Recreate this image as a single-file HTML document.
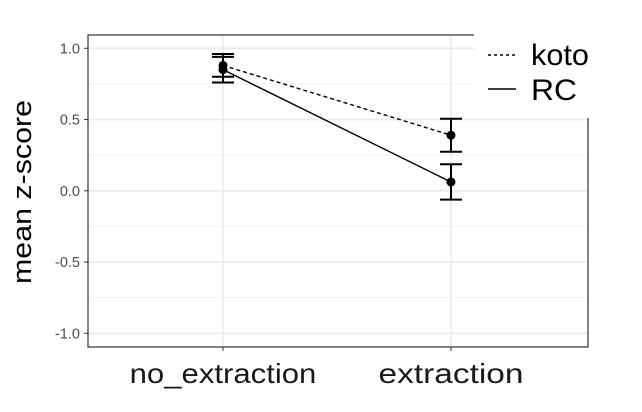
<!DOCTYPE html>
<html><head><meta charset="utf-8"><style>
body{margin:0;background:#fff;}
svg{display:block;font-family:"Liberation Sans",Arial,sans-serif;}
</style></head><body>
<svg id="chart" width="642" height="412"></svg>
<script>
const categories = ["no_extraction","extraction"];
const seriesNames = ["koto","RC"];
const kotoMean = [0.88, 0.39];
const kotoErr = [0.08, 0.116];
const rcMean = [0.85, 0.062];
const rcErr = [0.09, 0.124];
const yTicks = [1.0, 0.5, 0.0, -0.5, -1.0];
const yTickLabels = ["1.0","0.5","0.0","-0.5","-1.0"];
const yMinor = [0.75, 0.25, -0.25, -0.75];

const NS="http://www.w3.org/2000/svg";
const svg=document.getElementById('chart');
const L=88,R=588,T=35,B=347;
const y=v=>190.8-v*142.5;
const x=i=>[223,451][i];
function el(tag,attrs,parent){const e=document.createElementNS(NS,tag);for(const k in attrs)e.setAttribute(k,attrs[k]);(parent||svg).appendChild(e);return e;}

const grid=el('g',{});


yMinor.forEach(v=>el('line',{x1:L,x2:R,y1:y(v),y2:y(v),stroke:'#f2f2f2','stroke-width':1},grid));
yTicks.forEach(v=>el('line',{x1:L,x2:R,y1:y(v),y2:y(v),stroke:'#ebebeb','stroke-width':1.6},grid));
categories.forEach((c,i)=>el('line',{x1:x(i),x2:x(i),y1:T,y2:B,stroke:'#ebebeb','stroke-width':1.6},grid));

const panel=el('rect',{x:L,y:T,width:R-L,height:B-T,fill:'none',stroke:'#333','stroke-width':1.2});



yTicks.forEach((v,i)=>{
  el('line',{x1:L-4,x2:L,y1:y(v),y2:y(v),stroke:'#333'});
  const t=el('text',{x:L-8,y:y(v)+5,'text-anchor':'end','font-size':14.5,fill:'#4d4d4d'});
  t.textContent=yTickLabels[i];
  
  
});
categories.forEach((c,i)=>{
  el('line',{x1:x(i),x2:x(i),y1:B,y2:B+4,stroke:'#333'});
  const t=el('text',{x:x(i),y:383,'text-anchor':'middle','font-size':28,fill:'#1a1a1a',textLength:c.length*13.9+6,lengthAdjust:'spacingAndGlyphs'});
  t.textContent=c;
  
  
});
const yt=el('text',{x:0,y:0,transform:'translate(31,192) rotate(-90)','text-anchor':'middle','font-size':27,fill:'#000',textLength:184,lengthAdjust:'spacingAndGlyphs'});
yt.textContent='mean z-score';



function series(means,errs,dash,name){
  const g=el('g',{});
  
  
  const pts=means.map((m,i)=>x(i)+','+y(m)).join(' ');
  const pl=el('polyline',{points:pts,fill:'none',stroke:'#000','stroke-width':1.4,'stroke-dasharray':dash},g);
  
  means.forEach((m,i)=>{
    const hi=y(m+errs[i]),lo=y(m-errs[i]);
    const eb=el('path',{d:`M${x(i)-11},${hi}H${x(i)+11}M${x(i)},${hi}V${lo}M${x(i)-11},${lo}H${x(i)+11}`,stroke:'#000','stroke-width':2,fill:'none'},g);
    
    const c=el('circle',{cx:x(i),cy:y(m),r:4.5,fill:'#000'},g);
    
  });
}
series(kotoMean,kotoErr,'4,3','koto');
series(rcMean,rcErr,'none','rc');

const lg=el('g',{});


el('rect',{x:474,y:0,width:168,height:118,fill:'#fff'},lg);
el('line',{x1:488,x2:516,y1:55,y2:55,stroke:'#000','stroke-width':1.4,'stroke-dasharray':'3,3'},lg);
el('line',{x1:488,x2:516,y1:89,y2:89,stroke:'#000','stroke-width':1.4},lg);
const k=el('text',{x:531,y:65,'font-size':30,fill:'#000',textLength:58,lengthAdjust:'spacingAndGlyphs'},lg);k.textContent=seriesNames[0];

const r=el('text',{x:531,y:100,'font-size':30,fill:'#000',textLength:46,lengthAdjust:'spacingAndGlyphs'},lg);r.textContent=seriesNames[1];

</script>
</body></html>
